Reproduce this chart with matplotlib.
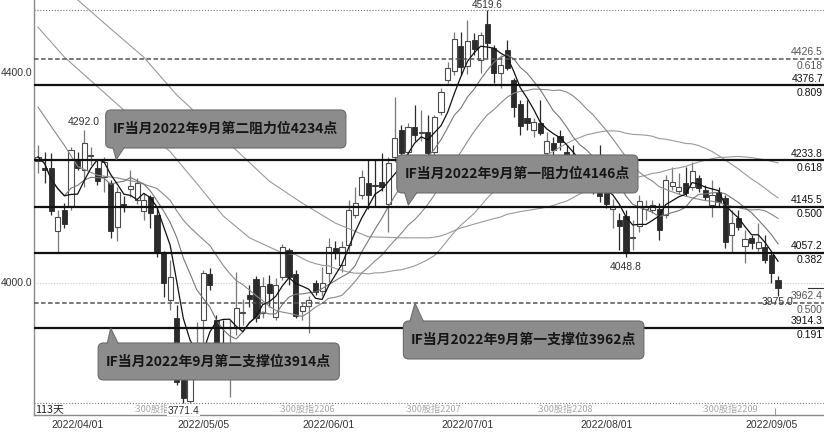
import matplotlib
matplotlib.use('Agg')
import matplotlib.pyplot as plt
import matplotlib.transforms as mtransforms
from matplotlib.patches import FancyBboxPatch, Polygon
import numpy as np
import pandas as pd

# ---------------- data ----------------
opens = [4233, 4218, 4219, 4099, 4139, 4147, 4234, 4215, 4241, 4218,
         4202, 4191, 4107, 4150, 4178, 4158, 4137, 4163, 4129, 4057,
         3968, 3933, 3830, 3776, 3858, 3930, 4017, 3930, 3878, 3840,
         3915, 3942, 3978, 4007, 3943, 3998, 3935, 4011, 4063, 4017,
         3947, 3956, 4000, 3985, 4019, 4067, 4034, 4072, 4129, 4168,
         4190, 4187, 4192, 4150, 4240, 4291, 4250, 4297, 4285, 4288,
         4250, 4325, 4386, 4403, 4451, 4413, 4463, 4424, 4493, 4447,
         4400, 4443, 4386, 4341, 4314, 4291, 4305, 4248, 4267, 4280,
         4249, 4240, 4215, 4188, 4200, 4180, 4171, 4140, 4120, 4128,
         4086, 4108, 4141, 4139, 4141, 4129, 4185, 4175, 4190, 4183,
         4200, 4177, 4148, 4173, 4162, 4091, 4124, 4070, 4086, 4067,
         4069, 4053, 4006]
highs = [4263, 4250, 4247, 4139, 4152, 4259, 4249, 4292, 4259, 4234,
         4240, 4196, 4183, 4165, 4215, 4200, 4171, 4167, 4145, 4060,
         4044, 3958, 3850, 3880, 3926, 4025, 4029, 3939, 3930, 3930,
         4020, 3970, 3996, 4013, 4011, 4015, 4009, 4075, 4067, 4025,
         3962, 3975, 4006, 4030, 4086, 4080, 4080, 4158, 4183, 4215,
         4234, 4234, 4247, 4240, 4354, 4300, 4305, 4339, 4330, 4320,
         4320, 4372, 4420, 4478, 4478, 4501, 4476, 4478, 4519.6, 4453,
         4434, 4463, 4390, 4348, 4348, 4314, 4348, 4287, 4278, 4291,
         4263, 4262, 4225, 4215, 4220, 4262, 4175, 4160, 4133, 4139,
         4120, 4167, 4158, 4158, 4152, 4206, 4221, 4209, 4221, 4230,
         4206, 4186, 4196, 4183, 4167, 4139, 4139, 4101, 4091, 4114,
         4091, 4057, 4013]
lows = [4209, 4190, 4130, 4057, 4105, 4139, 4215, 4183, 4225, 4187,
        4174, 4085, 4079, 4135, 4164, 4150, 4120, 4104, 4050, 3974,
        3949, 3805, 3771.4, 3772, 3840, 3880, 3987, 3870, 3850, 3783,
        3900, 3920, 3954, 3926, 3933, 3954, 3930, 4006, 3996, 3933,
        3930, 3905, 3977, 3975, 4002, 4045, 4021, 4060, 4124, 4160,
        4140, 4145, 4175, 4097, 4230, 4240, 4240, 4270, 4270, 4240,
        4240, 4320, 4380, 4396, 4396, 4397, 4434, 4400, 4428, 4381,
        4371, 4405, 4316, 4282, 4291, 4278, 4282, 4242, 4244, 4253,
        4234, 4205, 4180, 4175, 4170, 4155, 4143, 4105, 4063, 4048.8,
        4063, 4097, 4120, 4133, 4082, 4124, 4177, 4170, 4165, 4177,
        4173, 4158, 4126, 4145, 4067, 4057, 4100, 4038, 4065, 4060,
        4038, 4000, 3975]
closes = [4240, 4215, 4137, 4126, 4112, 4253, 4218, 4266, 4243, 4195,
          4230, 4099, 4174, 4147, 4184, 4190, 4158, 4134, 4057, 4000,
          4011, 3812, 3781, 3855, 3880, 4019, 3996, 3886, 3872, 3882,
          3952, 3944, 3970, 3933, 3994, 3981, 3996, 4069, 4011, 3937,
          3956, 3967, 3983, 4000, 4069, 4057, 4069, 4139, 4152, 4202,
          4168, 4184, 4182, 4228, 4276, 4248, 4297, 4282, 4288, 4248,
          4316, 4364, 4409, 4465, 4411, 4461, 4445, 4472, 4457, 4400,
          4415, 4409, 4335, 4299, 4305, 4307, 4286, 4270, 4253, 4268,
          4240, 4215, 4190, 4200, 4178, 4165, 4150, 4146, 4109, 4059,
          4088, 4156, 4145, 4148, 4101, 4196, 4193, 4183, 4171, 4213,
          4181, 4164, 4167, 4154, 4078, 4114, 4107, 4084, 4076, 4078,
          4044, 4019, 3990]

# early parts of the long moving averages (their windows start before the chart)
ma20_head_idx = [0, 2, 4, 6, 9, 12, 15, 18]
ma20_head_val = [4335, 4298, 4262, 4222, 4205, 4200, 4192, 4180]
ma40_head_idx = [0, 4, 13, 20, 24, 28, 32, 37]
ma40_head_val = [4487, 4430, 4329, 4250, 4190, 4128, 4086, 4057]
ma60_head_idx = [0, 6, 11, 16, 21, 25, 30, 35, 40, 45, 50, 55]
ma60_head_val = [4602, 4539, 4484, 4430, 4358, 4311, 4253, 4194, 4152, 4114, 4088, 4086]

date_ticks = [6, 25, 44, 65, 86, 111]
date_labels = ['2022/04/01', '2022/05/05', '2022/06/01', '2022/07/01', '2022/08/01', '2022/09/05']

contract_start = [15, 37, 56, 76, 101]
contract_labels = [':300股指2205', ':300股指2206', ':300股指2207', ':300股指2208', ':300股指2209']

levels = [4426.5, 4376.7, 4233.8, 4145.5, 4057.2, 3962.4, 3914.3]
level_ratios = ['0.618', '0.809', '0.618', '0.500', '0.382', '0.500', '0.191']
level_dashed = [True, False, False, False, False, True, False]

axis_labels = [4400.0, 4000.0]
period_high, period_low = 4519.6, 3771.4

callout_texts = ['IF当月2022年9月第二阻力位4234点', 'IF当月2022年9月第一阻力位4146点',
                 'IF当月2022年9月第二支撑位3914点', 'IF当月2022年9月第一支撑位3962点']

# ---------------- figure ----------------
CJK = ['Noto Sans CJK SC', 'DejaVu Sans']
NUM = ['Liberation Sans', 'DejaVu Sans']

fig = plt.figure(figsize=(8.24, 4.32), dpi=100)
fig.patch.set_facecolor('white')
ax = fig.add_axes([34 / 824, 17 / 432, 790 / 824, 415 / 432])
ax.set_facecolor('white')
n = len(closes)
idx = np.arange(n)
ax.set_xlim(-0.605, 118.96)
ax.set_ylim(3748.6, 4538.8)
for s in ['top', 'right']:
    ax.spines[s].set_visible(False)
for s in ['left', 'bottom']:
    ax.spines[s].set_color('#8a8a8a')
    ax.spines[s].set_linewidth(1.0)
ax.set_xticks([])
ax.set_yticks([])

yblend = mtransforms.blended_transform_factory(ax.transAxes, ax.transData)
xblend = mtransforms.blended_transform_factory(ax.transData, ax.transAxes)

# grid / range lines
ax.axhline(4000.0, color='#d0d0d0', lw=0.8, ls=(0, (1, 1.5)), zorder=1)
ax.axhline(period_high, color='#777777', lw=0.8, ls=(0, (1, 1.6)), zorder=1)
ax.axhline(period_low, color='#777777', lw=0.8, ls=(0, (1, 1.6)), zorder=1)

# candles
o = np.array(opens, float); c = np.array(closes, float)
h = np.array(highs, float); l = np.array(lows, float)
up = c >= o
blo = np.minimum(o, c)
bh = np.maximum(np.abs(c - o), 1.3)
ax.vlines(idx[up], l[up], h[up], color='#777777', lw=0.9, zorder=3)
ax.vlines(idx[~up], l[~up], h[~up], color='#2a2a2a', lw=0.9, zorder=3)
ax.bar(idx[up], bh[up], bottom=blo[up], width=0.78, facecolor='white',
       edgecolor='#4a4a4a', linewidth=0.8, zorder=4)
ax.bar(idx[~up], bh[~up], bottom=blo[~up], width=0.78, facecolor='#2b2b2b',
       edgecolor='#2b2b2b', linewidth=0.6, zorder=4)

# moving averages
sc = pd.Series(closes, dtype=float)
ma5 = sc.rolling(5, min_periods=1).mean()
ma10 = sc.rolling(10, min_periods=1).mean()
ma20 = sc.rolling(20).mean()
ma40 = sc.rolling(40).mean()
ma60 = sc.rolling(60).mean()

def joined(head_i, head_v, full, w):
    xs = list(head_i) + list(range(w - 1, n))
    ys = list(head_v) + list(full.iloc[w - 1:])
    return xs, ys

for (hi, hv, full, w, col) in [(ma60_head_idx, ma60_head_val, ma60, 60, '#9a9a9a'),
                                (ma40_head_idx, ma40_head_val, ma40, 40, '#9a9a9a'),
                                (ma20_head_idx, ma20_head_val, ma20, 20, '#8a8a8a')]:
    xs, ys = joined(hi, hv, full, w)
    ax.plot(xs, ys, color=col, lw=0.8, zorder=5)
ax.plot(idx, ma10, color='#777777', lw=0.8, zorder=5)
ax.plot(idx, ma5, color='#111111', lw=0.9, zorder=5)

# levels
off_up = mtransforms.offset_copy(yblend, fig=fig, x=0, y=1.5, units='dots')
off_dn = mtransforms.offset_copy(yblend, fig=fig, x=0, y=-2.5, units='dots')
for lv, ratio, dashed in zip(levels, level_ratios, level_dashed):
    if dashed:
        ax.axhline(lv, color='#555555', lw=1.1, ls=(0, (3, 1.6)), zorder=6)
        col = '#555555'
    else:
        ax.axhline(lv, color='#111111', lw=1.6, zorder=6)
        col = '#111111'
    ax.text(0.9987, lv, f'{lv:.1f}', transform=off_up, ha='right', va='bottom',
            fontsize=7.5, family=NUM, color=col, zorder=7)
    ax.text(0.9987, lv, ratio, transform=off_dn, ha='right', va='top',
            fontsize=7.5, family=NUM, color=col, zorder=7)

# last close marker
ax.plot([116.6, 118.96], [closes[-1], closes[-1]], color='#333333', lw=0.8, zorder=6)

# left axis labels
for v in axis_labels:
    ax.text(-0.0019, v, f'{v:.1f}', transform=yblend, ha='right', va='center',
            fontsize=7.5, family=NUM, color='#333333')

# date labels
for i, lab in zip(date_ticks, date_labels):
    ax.text(i, -0.024, lab, transform=xblend, ha='center', va='center',
            fontsize=7.5, family=NUM, color='#333333')
ax.vlines(111.5, 3748.6, 3762, color='#999999', lw=0.8, zorder=2)

# contract labels & day count
for i, lab in zip(contract_start, contract_labels):
    ax.text(i - 0.6, 3760, lab, ha='left', va='center', fontsize=6.6,
            family=CJK, color='#a8a8a8', zorder=2)
ax.text(-0.45, 3760, f'{n}天', ha='left', va='center', fontsize=7.8,
        family=CJK, color='#222222', zorder=8)

# high / low annotations
imax = int(np.argmax(h)); imin = int(np.argmin(l))
ann = [(7, highs[7], 2, 'bottom', 7.5), (imax, highs[imax], 0.3, 'bottom', 7.2),
       (imin, lows[imin], -2, 'top', 7.5), (89, lows[89], -3, 'top', 7.5),
       (n - 1, lows[-1], -1, 'top', 7.5)]
for i, v, dy, va, fs in ann:
    t = ax.annotate(f'{v:.1f}', xy=(i, v), xytext=(0, dy), textcoords='offset points',
                    ha='center', va=va, fontsize=fs, family=NUM, color='#333333', zorder=8)
    if i == imin:
        t.set_bbox(dict(facecolor='white', edgecolor='none', pad=0.3))

# callouts
ASPECT = 12.58
def callout(x0, x1, y0, y1, bx0, bx1, tip, text, down):
    box = FancyBboxPatch((x0, y0), x1 - x0, y1 - y0,
                         boxstyle='round,pad=0,rounding_size=0.8',
                         mutation_aspect=ASPECT, facecolor='#8c8c8c',
                         edgecolor='#6a6a6a', lw=0.8, zorder=10)
    ax.add_patch(box)
    by = y0 + 2 if down else y1 - 2
    byedge = y0 if down else y1
    ax.add_patch(Polygon([(bx0, by), tip, (bx1, by)], closed=True,
                         facecolor='#8c8c8c', edgecolor='none', zorder=11))
    ax.plot([bx0, tip[0], bx1], [byedge, tip[1], byedge], color='#6a6a6a',
            lw=0.8, zorder=11)
    ax.text((x0 + x1) / 2, (y0 + y1) / 2, text, ha='center', va='center',
            fontsize=10, fontweight='bold', family=CJK, color='#161616', zorder=12)

callout(10.25, 46.6, 4257.0, 4329.4, 11.35, 13.0, (11.85, 4235.0), callout_texts[0], True)
callout(54.3, 90.8, 4171.4, 4243.7, 55.5, 57.3, (56.05, 4148.5), callout_texts[1], True)
callout(9.1, 45.6, 3815.3, 3885.7, 10.5, 12.1, (11.0, 3914.0), callout_texts[2], False)
callout(55.3, 91.7, 3855.3, 3927.6, 56.3, 58.3, (57.06, 3961.5), callout_texts[3], False)

fig.savefig('out.png', dpi=100)
